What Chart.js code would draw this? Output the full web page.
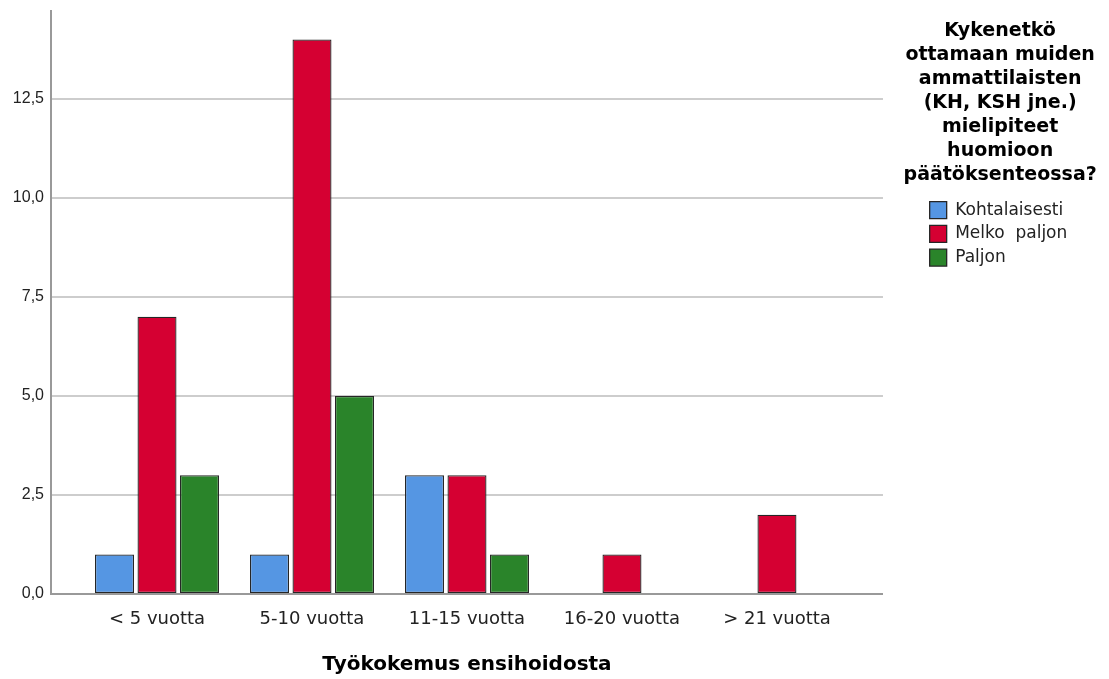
<!DOCTYPE html>
<html>
<head>
<meta charset="utf-8">
<script src="https://cdn.jsdelivr.net/npm/chart.js@4"></script>
<style>
html,body{margin:0;padding:0;background:#fff;}
#wrap{width:1109px;height:679px;}
</style>
</head>
<body>
<div id="wrap"><canvas id="c" width="1109" height="679"></canvas></div>
<script>
// ---- data ----
const categories = ['< 5 vuotta', '5-10 vuotta', '11-15 vuotta', '16-20 vuotta', '> 21 vuotta'];
const seriesNames = ['Kohtalaisesti', 'Melko  paljon', 'Paljon'];
const kohtalaisesti = [1, 1, 3, null, null];
const melkoPaljon = [7, 14, 3, 1, 2];
const paljon = [3, 5, 1, null, null];
const yTickValues = [0, 2.5, 5, 7.5, 10, 12.5];
const yTickLabels = ['0,0', '2,5', '5,0', '7,5', '10,0', '12,5'];
const xTickValues = [0, 1, 2, 3, 4];
const xTitle = 'Työkokemus ensihoidosta';
const legendTitle = ['Kykenetkö', 'ottamaan muiden', 'ammattilaisten', '(KH, KSH jne.)', 'mielipiteet', 'huomioon', 'päätöksenteossa?'];

// ---- styles ----
const colors = ['#5596e3', '#d50032', '#2a842a'];
const toPoints = arr => arr.map((v, i) => ({x: i, y: v}));
const seriesValues = [kohtalaisesti, melkoPaljon, paljon];

const datasets = seriesValues.map((vals, k) => ({
  label: seriesNames[k],
  data: toPoints(vals),
  backgroundColor: colors[k],
  borderColor: '#262626',
  borderWidth: 1.3,
  borderSkipped: false,
  categoryPercentage: 0.8226,
  barPercentage: 0.918
}));

// let the legend title extend past the (narrow) legend box instead of being clipped
const legendNoClip = {
  id: 'legendNoClip',
  afterLayout(chart) {
    const lg = chart.legend;
    if (lg && !lg._noClip && typeof lg._draw === 'function') {
      lg._noClip = true;
      lg.draw = function () { if (this.options.display) this._draw(); };
    }
  }
};

new Chart(document.getElementById('c'), {
  type: 'bar',
  data: {datasets},
  plugins: [legendNoClip],
  options: {
    responsive: false,
    animation: false,
    layout: {padding: {left: 0, top: 11, right: 31.7, bottom: 0}},
    plugins: {
      tooltip: {enabled: false},
      legend: {
        position: 'right',
        align: 'start',
        title: {
          display: true,
          text: legendTitle,
          color: '#000',
          font: {family: 'DejaVu Sans', size: 19, weight: 'bold', lineHeight: 1.263},
          padding: {top: 10.3, bottom: 149.7}
        },
        labels: {
          boxWidth: 17,
          boxHeight: 17,
          padding: 6.7,
          color: '#222',
          font: {family: 'DejaVu Sans', size: 17}
        }
      }
    },
    scales: {
      x: {
        type: 'linear',
        min: -0.684,
        max: 4.684,
        offset: false,
        afterBuildTicks: s => { s.ticks = xTickValues.map(v => ({value: v})); },
        afterFit: s => { s.height = 85; s.paddingLeft = 0; s.paddingRight = 0; },
        grid: {display: false, drawTicks: false},
        border: {display: true, color: '#999999', width: 2},
        ticks: {
          autoSkip: false,
          maxRotation: 0,
          padding: 15,
          color: '#222',
          font: {family: 'DejaVu Sans', size: 18},
          callback: v => categories[xTickValues.indexOf(v)]
        },
        title: {
          display: true,
          text: xTitle,
          color: '#000',
          font: {family: 'DejaVu Sans', size: 20, weight: 'bold'},
          padding: {top: 0, bottom: 2}
        }
      },
      y: {
        min: 0,
        max: 14.72,
        afterBuildTicks: s => { s.ticks = yTickValues.map(v => ({value: v})); },
        afterFit: s => { s.width = 51; s.paddingTop = 0; s.paddingBottom = 0; },
        grid: {color: '#cdcdcd', lineWidth: 2, drawTicks: false},
        border: {display: true, color: '#999999', width: 2},
        ticks: {
          padding: 7,
          color: '#222',
          font: {family: 'Liberation Sans', size: 16},
          callback: v => yTickLabels[yTickValues.indexOf(v)]
        }
      },
      yGap: {
        type: 'linear',
        position: 'right',
        display: true,
        grid: {display: false, drawTicks: false},
        border: {display: false},
        ticks: {display: false},
        afterFit: s => { s.width = 40; s.paddingTop = 0; s.paddingBottom = 0; }
      }
    }
  }
});
</script>
</body>
</html>
